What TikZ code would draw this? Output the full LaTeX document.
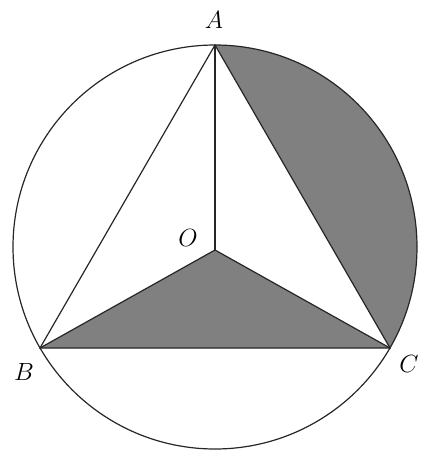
\documentclass[tikz,border=0pt]{standalone}
\begin{document}
\begin{tikzpicture}[x=1pt,y=-1pt,
  edge/.style={line width=1.2pt,draw=black!85},
  lbl/.style={font=\fontsize{26}{28}\selectfont}]
\useasboundingbox (0,0) rectangle (428,450);
\coordinate (O0) at (215,247);
\coordinate (A) at (215,45);
\coordinate (B) at (40,348);
\coordinate (C) at (390,348);
\coordinate (O) at (215,250);
% shaded segment between chord AC and arc AC
\fill[black!50] (A) arc[start angle=-90,end angle=30,radius=202] -- cycle;
% shaded triangle OBC
\fill[black!50] (O) -- (B) -- (C) -- cycle;
\draw[edge] (O0) circle[radius=202];
\draw[edge] (A) -- (B) -- (C) -- cycle;
\draw[edge] (O) -- (A);
\draw[edge] (O) -- (B);
\draw[edge] (O) -- (C);
\node[lbl] (lA) at (214,20) {$A$};
\node[lbl] (lO) at (188,238) {$O$};
\node[lbl] (lB) at (24,372) {$B$};
\node[lbl] (lC) at (409,364) {$C$};
\end{tikzpicture}
\end{document}
